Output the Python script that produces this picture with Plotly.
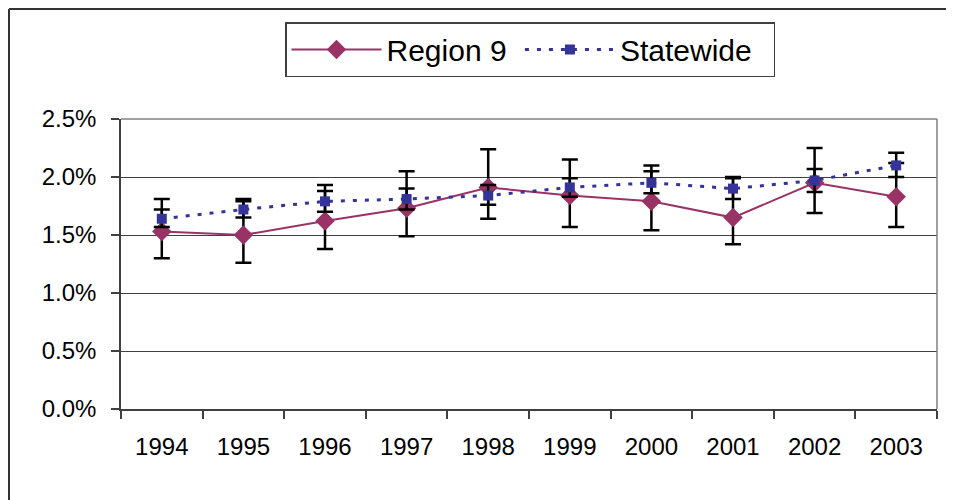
import plotly.graph_objects as go

years = ["1994", "1995", "1996", "1997", "1998", "1999", "2000", "2001", "2002", "2003"]

# rates in percent, with lower / upper confidence limits
region9 = [1.53, 1.50, 1.62, 1.73, 1.91, 1.84, 1.79, 1.65, 1.95, 1.83]
region9_lo = [1.30, 1.26, 1.38, 1.49, 1.64, 1.57, 1.54, 1.42, 1.69, 1.57]
region9_hi = [1.81, 1.81, 1.93, 2.05, 2.24, 2.15, 2.10, 2.00, 2.25, 2.12]

statewide = [1.64, 1.72, 1.79, 1.81, 1.84, 1.91, 1.95, 1.90, 1.97, 2.10]
statewide_lo = [1.57, 1.65, 1.70, 1.72, 1.76, 1.83, 1.86, 1.81, 1.87, 2.00]
statewide_hi = [1.72, 1.79, 1.88, 1.90, 1.93, 1.99, 2.05, 1.99, 2.07, 2.21]

y_ticks = [0, 0.5, 1.0, 1.5, 2.0, 2.5]
y_labels = ["0.0%", "0.5%", "1.0%", "1.5%", "2.0%", "2.5%"]

font = "Liberation Sans, Arial, sans-serif"
nbsp = "\u00a0"  # trailing padding inside the legend entries

W, H = 946, 492
L, R, T, B = 113, 17, 111, 91
pw, ph = W - L - R, H - T - B


def errs(vals, lo, hi):
    plus = [h - v for v, h in zip(vals, hi)]
    minus = [v - l for v, l in zip(vals, lo)]
    return dict(type="data", array=plus, arrayminus=minus, symmetric=False,
                color="black", thickness=2.5, width=8)


fig = go.Figure()
fig.add_trace(go.Scatter(
    x=years, y=region9, name="Region 9" + nbsp, mode="lines+markers",
    line=dict(color="#993366", width=2),
    marker=dict(symbol="diamond", size=15, color="#993366"),
    error_y=errs(region9, region9_lo, region9_hi),
))
fig.add_trace(go.Scatter(
    x=years, y=statewide, name="Statewide" + nbsp * 2, mode="lines+markers",
    line=dict(color="#333399", width=3, dash="4px,8px"),
    marker=dict(symbol="square", size=10, color="#333399"),
    error_y=errs(statewide, statewide_lo, statewide_hi),
))

# outer chart border, in pixel offsets turned into paper units
bx0, bx1 = (1 - L) / pw, (W + 5 - L) / pw
by0, by1 = (H - B - 1) / ph, (H - B - H - 5) / ph

fig.update_layout(
    width=W, height=H,
    margin=dict(l=L, r=R, t=T, b=B),
    paper_bgcolor="white", plot_bgcolor="white",
    font=dict(family=font, size=24, color="black"),
    showlegend=True,
    legend=dict(
        orientation="h", x=(277 - L) / pw, y=1 + (T - 14) / ph,
        xanchor="left", yanchor="top",
        font=dict(size=30), bordercolor="#404040", borderwidth=1.5,
        itemwidth=90, bgcolor="white",
    ),
    xaxis=dict(
        type="category", range=[-0.5, 9.5], tickson="boundaries",
        ticks="outside", ticklen=8, tickcolor="#404040", tickwidth=1.5,
        showline=True, linecolor="#404040", linewidth=1.5, mirror=False,
        showgrid=False, ticklabelstandoff=15, fixedrange=True,
    ),
    yaxis=dict(
        range=[0, 2.5], tickvals=y_ticks, ticktext=y_labels,
        ticks="outside", ticklen=8, tickcolor="#404040", tickwidth=1.5,
        showline=True, linecolor="#404040", linewidth=1.5,
        showgrid=True, gridcolor="#404040", gridwidth=1,
        zeroline=False, ticklabelstandoff=10, fixedrange=True,
    ),
    shapes=[
        # gray frame on top / right of the plot area
        dict(type="line", xref="paper", yref="paper", x0=0, x1=1, y0=1, y1=1,
             line=dict(color="#808080", width=1.5)),
        dict(type="line", xref="paper", yref="paper", x0=1, x1=1, y0=0, y1=1,
             line=dict(color="#808080", width=1.5)),
        dict(type="line", xref="paper", yref="paper", x0=bx0, x1=bx1, y0=by0, y1=by0,
             line=dict(color="#333333", width=2)),
        dict(type="line", xref="paper", yref="paper", x0=bx0, x1=bx0, y0=by0, y1=by1,
             line=dict(color="#333333", width=2)),
    ],
)

fig.write_html("out.html")
